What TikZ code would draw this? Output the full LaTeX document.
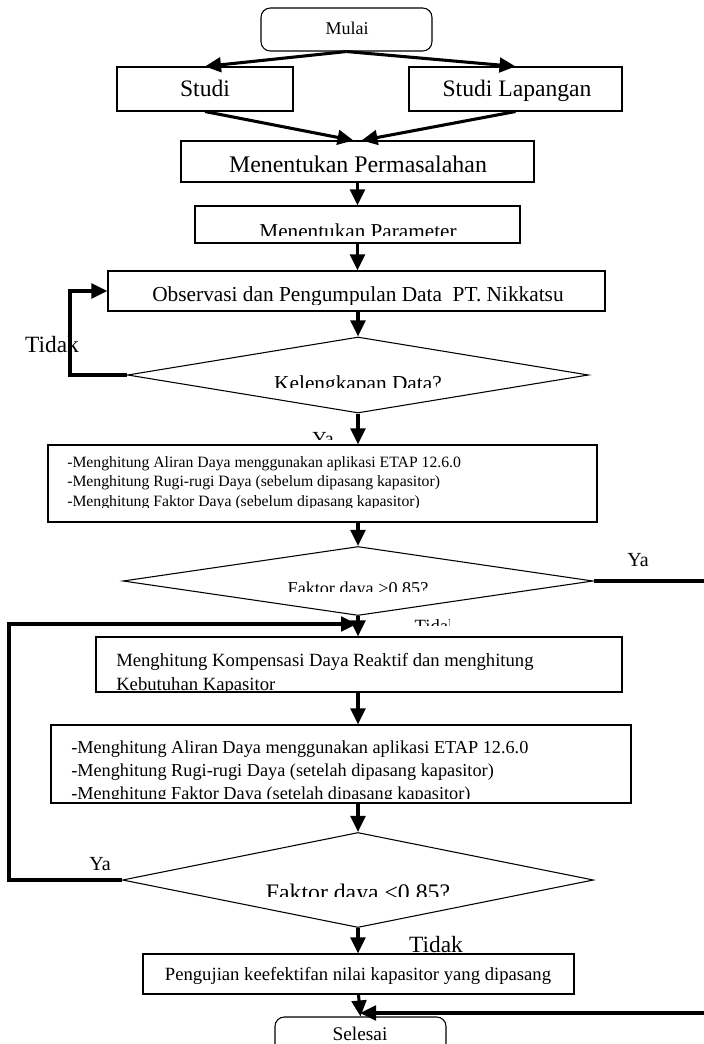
\documentclass[tikz,border=0pt]{standalone}
\usepackage{fontspec}
\setmainfont{Liberation Serif}
\usetikzlibrary{arrows.meta,fit,shapes.geometric}
\tikzset{
  box/.style={draw, line width=0.8pt, inner sep=0pt, fill=white},
  rbox/.style={box, rounded corners=7pt},
  dia/.style={draw, diamond, line width=0.8pt, inner sep=0pt, fill=white},
  arr/.style={line width=2.3pt, -{Triangle[length=12pt,width=11pt]}},
  txt/.style={inner sep=0pt, anchor=base},
  ltxt/.style={inner sep=0pt, anchor=base west},
}
\newcommand{\fs}[1]{\fontsize{#1}{#1}\selectfont}
\begin{document}
\begin{tikzpicture}[x=0.75pt,y=-0.75pt]
\useasboundingbox (0,0) rectangle (703,1044);
% labels that are partly hidden
\begin{scope}
\clip (300,420) rectangle (345,439);
\node[txt] (ya1) at (323,445) {\fs{15}Ya};
\end{scope}
\begin{scope}
\clip (400,610) rectangle (449,625);
\node[txt] (tid) at (436,632) {\fs{14}Tidak};
\end{scope}
% boxes
\node[rbox, fit={(261,8) (432,51)}] (mulai) {};
\node[txt] at (347,35) {\fs{13.5}Mulai};
\node[box, fit={(117,67) (293,111)}] (studi) {};
\node[txt] at (205,97) {\fs{17.7}Studi};
\node[box, fit={(409,67) (622,111)}] (lap) {};
\node[txt] at (517,97) {\fs{17.7}Studi Lapangan};
\node[box, fit={(181,141) (534,182)}] (perm) {};
\node[txt] at (358,173) {\fs{17.9}Menentukan Permasalahan};
\node[box, fit={(195,206) (520,243)}] (param) {};
\begin{scope}
\clip (196,207) rectangle (519,236);
\node[txt] at (358,239) {\fs{15.9}Menentukan Parameter};
\end{scope}
\node[box, fit={(108,271) (605,311)}] (obs) {};
\begin{scope}
\clip (109,272) rectangle (604,305);
\node[txt] at (358,302) {\fs{16}Observasi dan Pengumpulan Data\ \ PT. Nikkatsu};
\end{scope}
\node[dia, minimum width=461*0.75pt, minimum height=76*0.75pt] (d1) at (358,375) {};
\begin{scope}
\clip (250,360) rectangle (470,387);
\node[txt] at (358,390) {\fs{16}Kelengkapan Data?};
\end{scope}
\node[txt] (tidak1) at (52,353) {\fs{17.5}Tidak};
% box 1
\node[box, fit={(48,445) (597,522)}] (b1) {};
\node[ltxt] at (67,467) {\fs{11.8}-Menghitung Aliran Daya menggunakan aplikasi ETAP 12.6.0};
\node[ltxt] at (67,486) {\fs{11.8}-Menghitung Rugi-rugi Daya (sebelum dipasang kapasitor)};
\begin{scope}
\clip (60,495) rectangle (590,507);
\node[ltxt] at (67,506) {\fs{11.8}-Menghitung Faktor Daya (sebelum dipasang kapasitor)};
\end{scope}
\node[dia, minimum width=470*0.75pt, minimum height=69*0.75pt] (d2) at (358,581) {};
\begin{scope}
\clip (250,570) rectangle (470,591);
\node[txt] at (358,594) {\fs{13.6}Faktor daya >0.85?};
\end{scope}
\node[txt] (ya2) at (638,566) {\fs{15}Ya};
% box kompensasi
\node[box, fit={(96,637) (622,692)}] (komp) {};
\node[ltxt] at (116,666) {\fs{14}Menghitung Kompensasi Daya Reaktif dan menghitung};
\begin{scope}
\clip (100,670) rectangle (610,690);
\node[ltxt] at (116,690) {\fs{14}Kebutuhan Kapasitor};
\end{scope}
% box 2
\node[box, fit={(51,725) (631,803)}] (b2) {};
\node[ltxt] at (71,753) {\fs{13.7}-Menghitung Aliran Daya menggunakan aplikasi ETAP 12.6.0};
\node[ltxt] at (71,776) {\fs{13.7}-Menghitung Rugi-rugi Daya (setelah dipasang kapasitor)};
\begin{scope}
\clip (60,782) rectangle (620,798);
\node[ltxt] at (71,799) {\fs{13.7}-Menghitung Faktor Daya (setelah dipasang kapasitor)};
\end{scope}
\node[dia, minimum width=471*0.75pt, minimum height=95*0.75pt] (d3) at (358,880) {};
\begin{scope}
\clip (250,865) rectangle (470,896);
\node[txt] at (358,900) {\fs{17.8}Faktor daya <0.85?};
\end{scope}
\node[txt] (ya3) at (100,870) {\fs{15}Ya};
\node[box, fit={(143,954) (574,994)}] (uji) {};
\node[txt] at (358,980) {\fs{14}Pengujian keefektifan nilai kapasitor yang dipasang};
\node[txt] (tidak2) at (436,952) {\fs{17.5}Tidak};
\node[rbox, fit={(275,1017) (446,1054)}] (selesai) {};
\node[txt] at (360,1040) {\fs{14.5}Selesai};
% connectors
\draw[arr] (mulai.south) -- (studi.north);
\draw[arr] (mulai.south) -- (lap.north);
\draw[arr] (studi.south) -- ([xshift=-3pt]perm.north);
\draw[arr] (lap.south) -- ([xshift=3pt]perm.north);
\draw[arr] (perm.south) -- (param.north);
\draw[arr] (param.south) -- (param.south |- obs.north);
\draw[arr] (d1.north |- obs.south) -- (d1.north);
\coordinate (l1) at (70,375);
\draw[arr] (d1.west) -- (l1) |- (obs.west);
\draw[arr] (d1.south) -- (d1.south |- b1.north);
\draw[arr] (d2.north |- b1.south) -- (d2.north);
\draw[arr] (d2.south) -- (d2.south |- komp.north);
\coordinate (l2a) at (9,880);
\coordinate (l2b) at (9,624);
\coordinate (l2c) at (357,624);
\draw[arr] (d3.west) -- (l2a) -- (l2b) -- (l2c);
\draw[arr] (d2.south |- komp.south) -- (d2.south |- b2.north);
\draw[arr] (d3.north |- b2.south) -- (d3.north);
\draw[arr] (d3.south) -- (d3.south |- uji.north);
\draw[arr] (uji.south) -- (selesai.north);
\coordinate (r1) at (712,581);
\coordinate (r2) at (712,1013);
\coordinate (r3) at (360,1013);
\draw[arr] (d2.east) -- (r1) -- (r2) -- (r3);
\end{tikzpicture}
\end{document}
